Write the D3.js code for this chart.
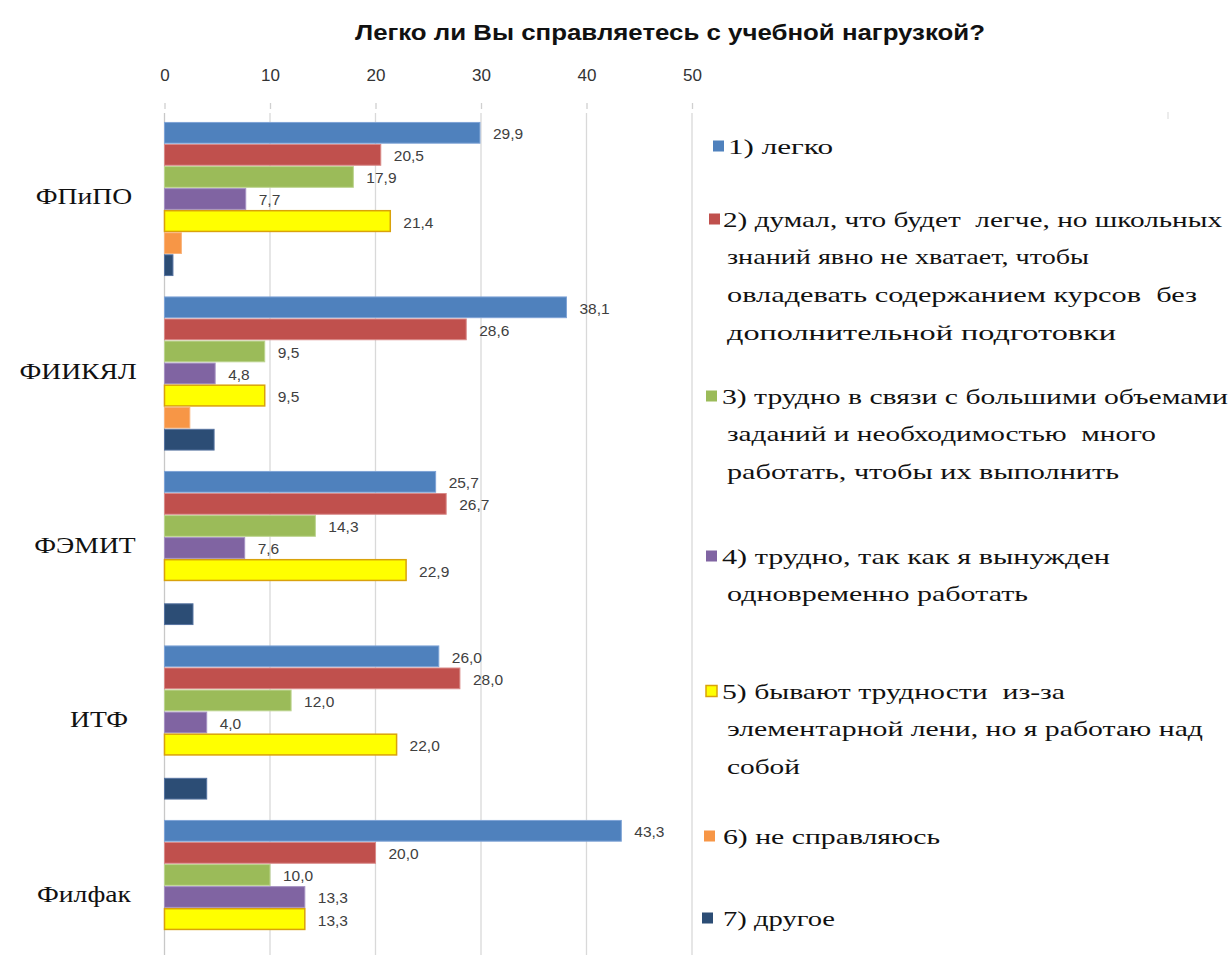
<!DOCTYPE html>
<html><head><meta charset="utf-8">
<script src="https://cdn.jsdelivr.net/npm/d3@7"></script>
<style>
html,body{margin:0;padding:0;background:#fff;}
svg{display:block;}
.serif{font-family:"Liberation Serif","DejaVu Serif","Times New Roman",serif;}
.sans{font-family:"Liberation Sans","DejaVu Sans",Arial,sans-serif;}
</style></head>
<body>
<svg id="chart" width="1232" height="955"></svg>
<script>
// ---- Data ----
const title = "Легко ли Вы справляетесь с учебной нагрузкой?";
const categories = ["ФПиПО", "ФИИКЯЛ", "ФЭМИТ", "ИТФ", "Филфак"];
const legendLines = [
  ["1) легко"],
  ["2) думал, что будет  легче, но школьных", "знаний явно не хватает, чтобы", "овладевать содержанием курсов  без", "дополнительной подготовки"],
  ["3) трудно в связи с большими объемами", "заданий и необходимостью  много", "работать, чтобы их выполнить"],
  ["4) трудно, так как я вынужден", "одновременно работать"],
  ["5) бывают трудности  из-за", "элементарной лени, но я работаю над", "собой"],
  ["6) не справляюсь"],
  ["7) другое"]
];
const s1 = [29.9, 38.1, 25.7, 26.0, 43.3];
const s2 = [20.5, 28.6, 26.7, 28.0, 20.0];
const s3 = [17.9, 9.5, 14.3, 12.0, 10.0];
const s4 = [7.7, 4.8, 7.6, 4.0, 13.3];
const s5 = [21.4, 9.5, 22.9, 22.0, 13.3];
const s6 = [1.6, 2.4, 0, 0, 0];
const s7 = [0.8, 4.7, 2.7, 4.0, 0];
const seriesValues = [s1, s2, s3, s4, s5, s6, s7];
const labeledSeries = [true, true, true, true, true, false, false];
const tickValues = [0, 10, 20, 30, 40, 50];

// ---- Styles / layout ----
const colors = ["#4f81bd", "#c0504d", "#9bbb59", "#8064a2", "#ffff00", "#f79646", "#2c4d75"];
const strokes = ["#7ea3d6", "#d98a88", "#bcd48f", "#a591c2", "#d9a20b", "#f9b27a", "#5673a0"];
const legendY = [146, 219, 396, 556, 691, 836, 918];
const legendMarkX = [713, 709, 706, 706, 706, 704, 702];
const legendTextX = [728, 723, 722, 722, 722, 723, 723];
const legendWidths = [
  [105],
  [499, 362, 470, 389],
  [506, 429, 392],
  [388, 301],
  [343, 476, 73],
  [217],
  [112]
];
const legendLH = 37.8;
const catCenterX = [84, 78, 85, 99, 84];

const svg = d3.select("#chart");

const x = d3.scaleLinear().domain([0, 50]).range([164.5, 692]);
const y = d3.scaleBand().domain(categories).range([101.5, 994.5]).paddingInner(0.1175).paddingOuter(0.1175);
const ySub = d3.scaleBand().domain(d3.range(7)).range([0, y.bandwidth()]).paddingInner(0.06).paddingOuter(0.02);

// Title
svg.append("text")
  .attr("class", "sans")
  .attr("x", 355).attr("y", 32)
  .attr("dominant-baseline", "central")
  .attr("font-weight", "bold").attr("font-size", 22)
  .attr("fill", "#111")
  .attr("textLength", 630).attr("lengthAdjust", "spacingAndGlyphs")
  .text(title);

// Gridlines
svg.append("g").selectAll("line").data(tickValues.slice(1)).join("line")
  .attr("x1", d => x(d)).attr("x2", d => x(d))
  .attr("y1", 113).attr("y2", 955)
  .attr("stroke", "#d9d9d9").attr("stroke-width", 1.3);
svg.append("line").attr("x1", x(0)).attr("x2", x(0)).attr("y1", 113).attr("y2", 955)
  .attr("stroke", "#c8c8c8").attr("stroke-width", 1.3);

// Top axis
const axis = d3.axisTop(x).tickValues(tickValues).tickSize(6).tickPadding(22).tickFormat(d3.format("d"));
const axG = svg.append("g").attr("transform", "translate(0,109)").call(axis);
axG.select(".domain").remove();
axG.selectAll(".tick line").attr("stroke", "#d0d0d0").attr("stroke-width", 1.3);
axG.selectAll(".tick text")
  .attr("class", "sans")
  .attr("font-size", 17).attr("fill", "#333");

// Bars
const groups = svg.append("g").selectAll("g.cat").data(categories).join("g")
  .attr("class", "cat")
  .attr("transform", c => `translate(0,${y(c)})`);

groups.each(function(c, ci) {
  const g = d3.select(this);
  seriesValues.forEach((vals, si) => {
    const v = vals[ci];
    if (v > 0) {
      g.append("rect")
        .attr("x", x(0))
        .attr("y", ySub(si))
        .attr("width", x(v) - x(0))
        .attr("height", ySub.bandwidth())
        .attr("fill", colors[si])
        .attr("stroke", strokes[si])
        .attr("stroke-width", si === 4 ? 1.5 : 1);
    }
    if (labeledSeries[si]) {
      g.append("text")
        .attr("class", "sans")
        .attr("x", x(v) + 13)
        .attr("y", ySub(si) + ySub.bandwidth() / 2 + 1)
        .attr("dominant-baseline", "central")
        .attr("font-size", 15.5).attr("fill", "#404040")
        .text(d3.format(".1f")(v).replace(".", ","));
    }
  });
});

// Category labels (stretched slightly to mimic the wider serif face)
svg.append("g").selectAll("text").data(categories).join("text")
  .attr("class", "serif")
  .attr("x", (c, i) => catCenterX[i])
  .attr("y", c => y(c) + y.bandwidth() / 2 - 3)
  .attr("text-anchor", "middle").attr("dominant-baseline", "central")
  .attr("font-size", 24).attr("fill", "#111")
  .text(c => c)
  .each(function() {
    const w = this.getComputedTextLength();
    d3.select(this).attr("textLength", w * 1.15).attr("lengthAdjust", "spacingAndGlyphs");
  });

// Legend
const leg = svg.append("g");
legendLines.forEach((lines, i) => {
  leg.append("rect")
    .attr("x", legendMarkX[i]).attr("y", legendY[i] - 5.5)
    .attr("width", 11).attr("height", 11)
    .attr("fill", colors[i])
    .attr("stroke", i === 4 ? strokes[i] : "none").attr("stroke-width", 1.5);
  lines.forEach((t, li) => {
    leg.append("text")
      .attr("class", "serif")
      .attr("x", li === 0 ? legendTextX[i] : 727)
      .attr("y", legendY[i] + li * legendLH)
      .attr("dominant-baseline", "central")
      .attr("font-size", 22).attr("fill", "#111")
      .attr("textLength", legendWidths[i][li]).attr("lengthAdjust", "spacingAndGlyphs")
      .style("white-space", "pre")
      .text(t);
  });
});

// small artifact mark
svg.append("line").attr("x1", 1168).attr("x2", 1168).attr("y1", 112).attr("y2", 119)
  .attr("stroke", "#e0e0e0").attr("stroke-width", 1.2);
</script>
</body></html>
